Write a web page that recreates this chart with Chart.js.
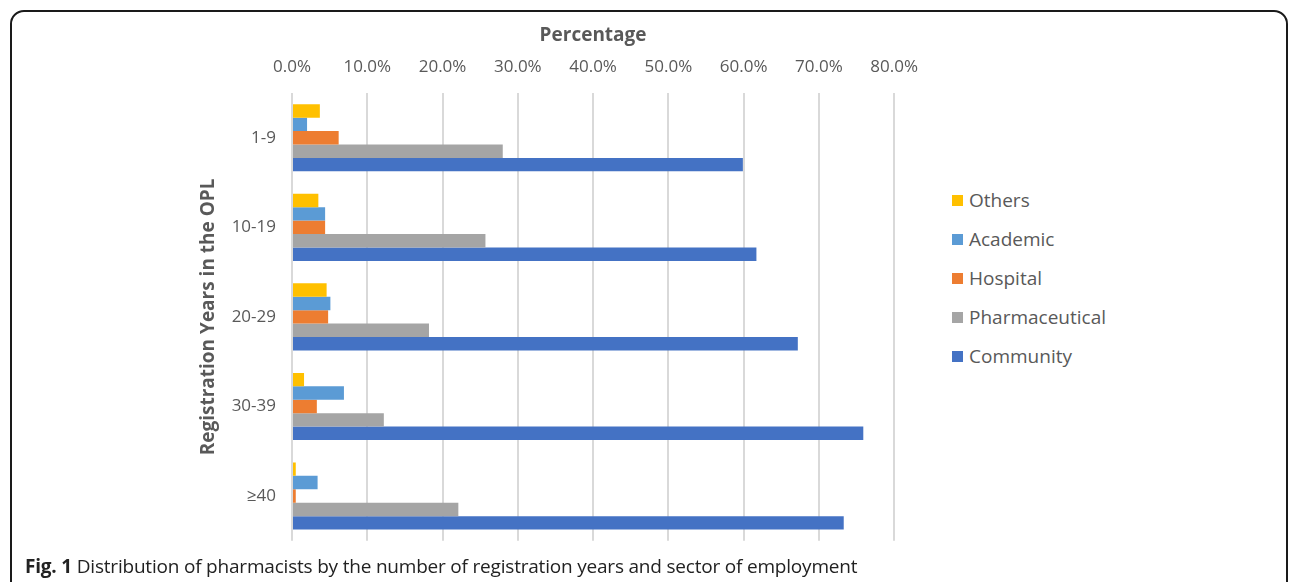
<!DOCTYPE html>
<html>
<head>
<meta charset="utf-8">
<script src="https://cdn.jsdelivr.net/npm/chart.js@4"></script>
<style>
  body { margin: 0; background: #fff; font-family: "Open Sans", sans-serif; }
  #frame {
    position: absolute; left: 10px; top: 10px; width: 1278px; height: 620px;
    border: 2px solid #1a1a1a; border-radius: 14px; box-sizing: border-box;
  }
  #wrap { position: absolute; left: 0; top: 0; width: 934px; height: 567px; }
  #legend { position: absolute; left: 952px; top: 187px; }
  .item { height: 39px; display: flex; align-items: flex-start; color: #595959; font-size: 19px; line-height: 26px; }
  .box { width: 11px; height: 11px; margin: 8px 6px 0 0; }
  #caption {
    position: absolute; left: 25px; top: 553px; font-size: 19px; color: #222;
    font-family: "Open Sans", sans-serif; letter-spacing: -0.2px;
  }
</style>
</head>
<body>
<div id="frame"></div>
<div id="wrap"><canvas id="chart"></canvas></div>
<div id="legend"></div>
<div id="caption"><b>Fig. 1</b> Distribution of pharmacists by the number of registration years and sector of employment</div>
<script>
// categories and series (percentages)
const categories = ["1-9", "10-19", "20-29", "30-39", "≥40"];
const others = [3.7, 3.5, 4.6, 1.6, 0.5];
const academic = [2.0, 4.4, 5.1, 6.9, 3.4];
const hospital = [6.2, 4.4, 4.8, 3.3, 0.5];
const pharmaceutical = [28.0, 25.7, 18.2, 12.2, 22.1];
const community = [59.9, 61.7, 67.2, 75.9, 73.3];

const series = [
  { label: "Others", data: others, color: "#FFC000" },
  { label: "Academic", data: academic, color: "#5B9BD5" },
  { label: "Hospital", data: hospital, color: "#ED7D31" },
  { label: "Pharmaceutical", data: pharmaceutical, color: "#A5A5A5" },
  { label: "Community", data: community, color: "#4472C4" },
];

const textColor = "#595959";

new Chart(document.getElementById("chart"), {
  type: "bar",
  data: {
    labels: categories,
    datasets: series.map(s => ({
      label: s.label,
      data: s.data,
      backgroundColor: s.color,
      barPercentage: 1,
      categoryPercentage: 0.75,
    })),
  },
  options: {
    indexAxis: "y",
    responsive: true,
    maintainAspectRatio: false,
    animation: false,
    layout: { padding: { left: 197, right: 33, top: 20, bottom: 5 } },
    plugins: {
      legend: { display: false },
      tooltip: { enabled: false },
    },
    scales: {
      x: {
        position: "top",
        min: 0,
        max: 80,
        ticks: {
          stepSize: 10,
          color: textColor,
          font: { family: "Open Sans", size: 17 },
          padding: 16,
          callback: v => v.toFixed(1) + "%",
        },
        grid: { color: "#d9d9d9", lineWidth: 2, drawTicks: false },
        border: { display: false },
        title: {
          display: true,
          text: "Percentage",
          color: textColor,
          font: { family: "Open Sans", size: 19, weight: "bold" },
          padding: { top: 4, bottom: 0 },
        },
        afterFit: s => { s.height = 73; },
      },
      y: {
        ticks: {
          color: textColor,
          font: { family: "Open Sans", size: 17 },
          padding: 16,
        },
        grid: { display: false, drawTicks: false },
        border: { display: false },
        title: {
          display: true,
          text: "Registration Years in the OPL",
          color: textColor,
          font: { family: "Open Sans", size: 19, weight: "bold" },
          padding: 0,
        },
        afterFit: s => { s.width = 95; },
      },
    },
  },
});

// legend
const legend = document.getElementById("legend");
series.forEach(s => {
  const row = document.createElement("div");
  row.className = "item";
  row.innerHTML = `<span class="box" style="background:${s.color}"></span><span>${s.label}</span>`;
  legend.appendChild(row);
});
</script>
</body>
</html>
